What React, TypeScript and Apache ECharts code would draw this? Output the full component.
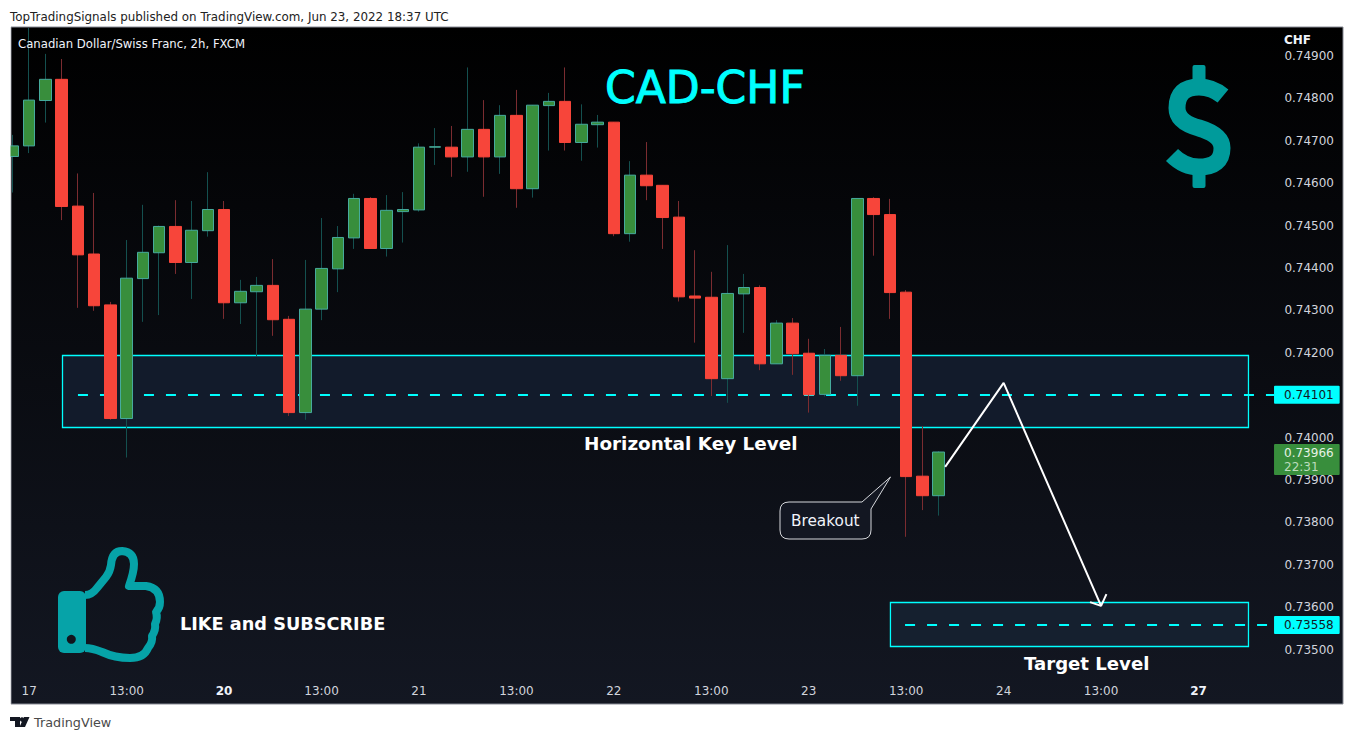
import React, { useEffect, useRef } from "react";
import * as echarts from "echarts";

const opens = [0.74663,0.74688,0.74795,0.74845,0.74546,0.74433,0.74313,0.74045,0.74375,0.74436,0.74498,0.74413,0.74488,0.74538,0.74318,0.74344,0.74359,0.74279,0.74059,0.74303,0.74398,0.74471,0.74564,0.74446,0.74533,0.74537,0.74685,0.74685,0.74662,0.74727,0.74662,0.7476,0.74587,0.74783,0.74793,0.74696,0.74738,0.74744,0.74481,0.74619,0.74595,0.7452,0.74334,0.74331,0.74139,0.74339,0.74354,0.74174,0.7427,0.74199,0.74102,0.74194,0.74146,0.74564,0.74526,0.74343,0.73909,0.73863];
const closes = [0.74688,0.74796,0.74845,0.74545,0.74431,0.74311,0.74045,0.74376,0.74437,0.74498,0.74413,0.74489,0.74538,0.74318,0.74345,0.74359,0.74278,0.74059,0.74303,0.74399,0.74472,0.74564,0.74446,0.74536,0.74538,0.74685,0.74686,0.74662,0.74727,0.74662,0.7476,0.74587,0.74784,0.74793,0.74696,0.74739,0.74744,0.74481,0.74619,0.74594,0.74519,0.74332,0.74329,0.74139,0.7434,0.74354,0.74174,0.7427,0.74198,0.74101,0.74194,0.74146,0.74564,0.74526,0.74342,0.73908,0.73863,0.73966];
const lows = [0.74578,0.74671,0.74743,0.74513,0.74306,0.74299,0.74042,0.73953,0.74273,0.74289,0.74386,0.74327,0.74474,0.7428,0.74268,0.74191,0.7424,0.74051,0.74042,0.74277,0.74343,0.74445,0.74446,0.74427,0.7446,0.74533,0.74643,0.74615,0.74627,0.74568,0.74622,0.74542,0.74566,0.74677,0.74677,0.74653,0.74684,0.74475,0.74462,0.7456,0.74445,0.74321,0.74224,0.74098,0.74082,0.74247,0.74159,0.74174,0.74148,0.74059,0.74097,0.74134,0.74075,0.74429,0.7428,0.73766,0.73829,0.73816];
const highs = [0.74714,0.74966,0.74905,0.74893,0.74623,0.74577,0.7432,0.74466,0.74549,0.745,0.7456,0.74558,0.74626,0.74558,0.74372,0.74379,0.74421,0.74287,0.74419,0.74518,0.74499,0.74575,0.74567,0.74572,0.74579,0.74694,0.7473,0.74735,0.74873,0.74796,0.74784,0.7482,0.74784,0.74813,0.74873,0.74786,0.74761,0.74744,0.74652,0.74697,0.74595,0.74558,0.74442,0.74391,0.74454,0.74386,0.74359,0.74277,0.74282,0.74233,0.74209,0.74261,0.74564,0.74567,0.74563,0.74348,0.74027,0.73968];

const priceTicks = [0.749,0.748,0.747,0.746,0.745,0.744,0.743,0.742,0.74,0.739,0.738,0.737,0.736,0.735];
const timeTickPositions = [1,7,13,19,25,31,37,43,49,55,61,67,73];
const timeTickLabels = ["17","13:00","20","13:00","21","13:00","22","13:00","23","13:00","24","13:00","27"];
const boldTimeLabels = ["20","27"];

const keyLevelPrice = 0.74101;
const keyZonePrices = [0.741936,0.740238];
const keyZoneSpan = [3.048,76.077];
const keyLineSpan = [4,77.65];
const targetLevelPrice = 0.73558;
const targetZonePrices = [0.736111,0.735073];
const targetZoneSpan = [54.03,76.077];
const targetLineSpan = [54.93,77.65];
const lastPrice = 0.73966;
const lastCountdown = "22:31";

const projectionX = [57.4,61,67];
const projectionY = [0.73931,0.74129,0.73603];
const arrowHeadX = [66.32,67,67.33];
const arrowHeadY = [0.73612,0.73603,0.73631];

const UI = "DejaVu Sans";
const CYAN = "#00ffff";
const TEAL = "#06a3a8";

const CALLOUT = "M789 502H862L890.5 477L871 509V530Q871 539 862 539H789Q780 539 780 530V511Q780 502 789 502Z";
const THUMB = "M85 595Q92 595 97 588L106 577Q110 572 111 565Q112 551 122 551Q134 552 134 564Q134 572 129 586L146 586Q160 588 160 602Q160 608 156 612Q158 618 155 624Q156 630 152 636Q153 642 148 648Q144 658 130 658Q115 658 102 652Q92 648 85 648";
const DOLLAR = "M1223 96Q1212 87 1199 87Q1177 87 1177 108Q1177 122 1199 128Q1222 135 1222 148Q1222 167 1199 167Q1184 167 1172 155";
const TVLOGO = "M10 717H20V727H15V721H10ZM29.5 717L25 727H19.5L24 717Z";

export default function App() {
  const ref = useRef<HTMLDivElement>(null);
  useEffect(() => {
    document.body.style.margin = "0";
    echarts.graphic.registerShape("callout", echarts.graphic.extendPath(CALLOUT, {}));
    echarts.graphic.registerShape("thumb", echarts.graphic.extendPath(THUMB, {}));
    echarts.graphic.registerShape("dollarS", echarts.graphic.extendPath(DOLLAR, {}));
    echarts.graphic.registerShape("tvlogo", echarts.graphic.extendPath(TVLOGO, {}));
    const chart = echarts.init(ref.current!, undefined, { renderer: "svg" });
    const wicks = opens.map((o, i) => [i, o, closes[i], lows[i], highs[i]]);
    const bodies = opens.map((o, i) => [i, o, closes[i], Math.min(o, closes[i]), Math.max(o, closes[i])]);
    const levelLabel = (v: number) => ({
      show: true,
      position: "end",
      distance: 0,
      formatter: v.toFixed(5),
      backgroundColor: CYAN,
      color: "#131722",
      fontFamily: UI,
      fontSize: 12,
      lineHeight: 12,
      padding: [3, 6, 3, 10],
      borderRadius: 1,
    });
    const levelLine = (span: number[], v: number) => [
      { coord: [span[0], v], lineStyle: { color: CYAN, width: 2, type: [10, 12] }, label: levelLabel(v) },
      { coord: [span[1], v] },
    ];
    const txt = (text: string, x: number, y: number, font: string, fill = "#ffffff", extra: any = {}) => ({
      type: "text",
      z: 20,
      style: { text, x, y, font, fill, textVerticalAlign: "middle", ...extra },
    });
    chart.setOption({
      animation: false,
      backgroundColor: "#ffffff",
      grid: {
        show: true,
        left: 11,
        right: 11,
        top: 27,
        bottom: 36,
        containLabel: false,
        borderColor: "#878a94",
        borderWidth: 1,
        backgroundColor: new echarts.graphic.LinearGradient(0, 0, 0, 1, [
          { offset: 0, color: "#000000" },
          { offset: 1, color: "#131722" },
        ]),
      },
      xAxis: {
        type: "value",
        min: -0.12315,
        max: 81.897,
        axisLine: { show: false },
        axisTick: { show: false },
        splitLine: { show: false },
        axisLabel: {
          inside: true,
          margin: 7,
          customValues: timeTickPositions,
          color: "#d1d4dc",
          fontFamily: UI,
          fontSize: 12,
          hideOverlap: false,
          formatter: (v: number) => {
            const s = timeTickLabels[timeTickPositions.indexOf(Math.round(v))];
            return boldTimeLabels.includes(s) ? `{b|${s}}` : s;
          },
          rich: { b: { fontFamily: UI, fontSize: 12, fontWeight: "bold", color: "#f0f3fa" } },
        },
      },
      yAxis: {
        type: "value",
        position: "right",
        min: 0.733717,
        max: 0.749684,
        axisLine: { show: false },
        axisTick: { show: false },
        splitLine: { show: false },
        axisLabel: {
          inside: true,
          margin: 9,
          customValues: priceTicks,
          color: "#d1d4dc",
          fontFamily: UI,
          fontSize: 12,
          hideOverlap: false,
          formatter: (v: number) => v.toFixed(5),
        },
      },
      series: [
        {
          type: "line",
          name: "zones",
          data: [],
          z: 1,
          markArea: {
            silent: true,
            z: 1,
            data: [
              [
                { coord: [keyZoneSpan[0], keyZonePrices[0]], itemStyle: { color: "#121b2b", borderColor: CYAN, borderWidth: 1.3, opacity: 1 } },
                { coord: [keyZoneSpan[1], keyZonePrices[1]] },
              ],
              [
                { coord: [targetZoneSpan[0], targetZonePrices[0]], itemStyle: { color: "#15202f", borderColor: CYAN, borderWidth: 1.3, opacity: 1 } },
                { coord: [targetZoneSpan[1], targetZonePrices[1]] },
              ],
            ],
          },
          markLine: {
            silent: true,
            z: 1,
            symbol: "none",
            data: [levelLine(keyLineSpan, keyLevelPrice), levelLine(targetLineSpan, targetLevelPrice)],
          },
        },
        {
          type: "candlestick",
          name: "wicks",
          z: 3,
          barWidth: 1,
          data: wicks,
          itemStyle: { color: "#14504f", color0: "#7b2c30", borderColor: "#14504f", borderColor0: "#7b2c30", borderWidth: 1 },
        },
        {
          type: "candlestick",
          name: "CADCHF",
          z: 4,
          barWidth: 12,
          data: bodies,
          itemStyle: { color: "#388e3c", color0: "#f7453a", borderColor: "#46ab9d", borderColor0: "#f7453a", borderWidth: 1 },
          markPoint: {
            silent: true,
            symbol: "rect",
            symbolSize: 0,
            data: [{
              coord: [keyLineSpan[1], lastPrice],
              label: {
                show: true,
                position: "right",
                distance: 0,
                offset: [0, 7.5],
                formatter: `{p|${lastPrice.toFixed(5)}}\n{t|${lastCountdown}}`,
                backgroundColor: "#388e3c",
                padding: [1, 6, 1, 10],
                borderRadius: 1,
                rich: {
                  p: { color: "#e6f2e6", fontFamily: UI, fontSize: 12, lineHeight: 15 },
                  t: { color: "#bcdcbd", fontFamily: UI, fontSize: 12, lineHeight: 14 },
                },
              },
            }],
          },
        },
        {
          type: "line",
          name: "projection",
          z: 6,
          silent: true,
          showSymbol: false,
          symbol: "none",
          data: projectionX.map((x, i) => [x, projectionY[i]]),
          lineStyle: { color: "#ffffff", width: 2 },
        },
        {
          type: "line",
          name: "arrow head",
          z: 6,
          silent: true,
          showSymbol: false,
          symbol: "none",
          data: arrowHeadX.map((x, i) => [x, arrowHeadY[i]]),
          lineStyle: { color: "#ffffff", width: 2 },
        },
      ],
      graphic: [
        { type: "rect", z: 10, shape: { x: 0, y: 27, width: 10.5, height: 680 }, style: { fill: "#ffffff" } },
        txt("TopTradingSignals published on TradingView.com, Jun 23, 2022 18:37 UTC", 10, 17, `11.9px ${UI}`, "#222222"),
        txt("Canadian Dollar/Swiss Franc, 2h, FXCM", 18, 44, `11.7px ${UI}`, "#f0f3fa"),
        txt("CHF", 1284, 40, `bold 12px ${UI}`, "#f0f3fa"),
        txt("CAD-CHF", 605, 87, `44px ${UI}`, CYAN, { stroke: CYAN, lineWidth: 1 }),
        txt("Horizontal Key Level", 584, 443, `bold 18.4px ${UI}`),
        txt("Target Level", 1024, 663, `bold 18.1px ${UI}`),
        txt("LIKE and SUBSCRIBE", 180, 624, `bold 17.7px ${UI}`),
        { type: "callout", z: 15, style: { fill: "#131722", stroke: "#d6d8dc", lineWidth: 1 } },
        txt("Breakout", 791, 520.5, `15.3px ${UI}`, "#f0f3fa"),
        { type: "rect", z: 15, shape: { x: 58, y: 591, width: 28, height: 62, r: 6 }, style: { fill: TEAL } },
        { type: "circle", z: 16, shape: { cx: 71.3, cy: 639.3, r: 4.5 }, style: { fill: "#11141d" } },
        { type: "thumb", z: 15, style: { fill: "none", stroke: TEAL, lineWidth: 8, lineJoin: "round" } },
        { type: "dollarS", z: 15, style: { fill: "none", stroke: "#009b9b", lineWidth: 17 } },
        { type: "rect", z: 15, shape: { x: 1192.5, y: 65, width: 13, height: 18, r: 2 }, style: { fill: "#009b9b" } },
        { type: "rect", z: 15, shape: { x: 1192.5, y: 170, width: 13, height: 18, r: 2 }, style: { fill: "#009b9b" } },
        { type: "tvlogo", z: 15, style: { fill: "#131722" } },
        { type: "circle", z: 15, shape: { cx: 22, cy: 719.5, r: 2.2 }, style: { fill: "#131722" } },
        txt("TradingView", 34, 722, `12.8px ${UI}`, "#4a4a4a"),
      ],
    });
    return () => chart.dispose();
  }, []);
  return <div ref={ref} style={{ position: "absolute", left: 0, top: 0, width: 1354, height: 740 }} />;
}
